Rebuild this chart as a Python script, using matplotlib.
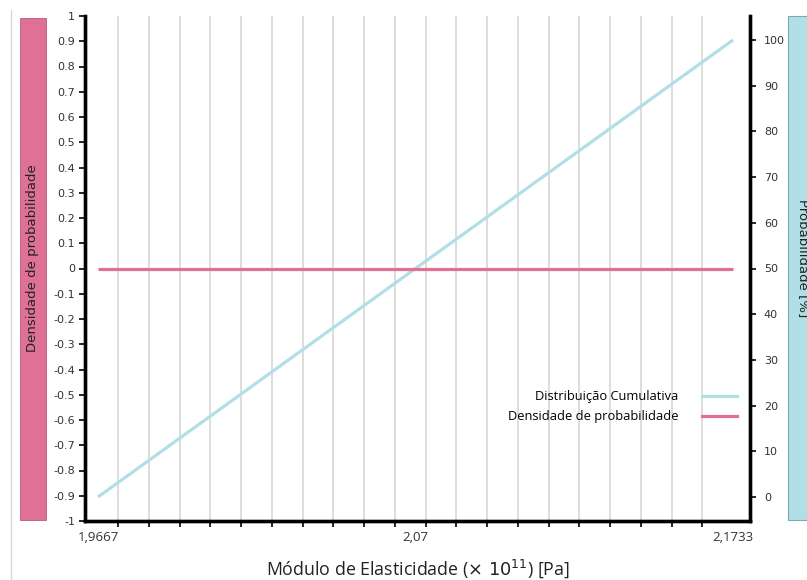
import numpy as np
import matplotlib
matplotlib.use('Agg')
from matplotlib import pyplot as plt
from matplotlib.patches import Rectangle
from matplotlib.lines import Line2D

# modulus of elasticity (x 1e11 Pa)
modulus = [1.9667, 2.07, 2.1733]
cumulative = [0, 50, 100]   # %
density = [0, 0, 0]

tick_labels = ['1,9667', '2,07', '2,1733']

CYAN = '#b0e0e6'
PINK = '#df7096'
TXT = '#333333'

fig = plt.figure(figsize=(8.07, 5.8), dpi=100)
ax = fig.add_axes([85 / 807, 59 / 580, 665 / 807, 505 / 580])
ax2 = ax.twinx()

# left axis: density
yt = np.round(np.arange(-1, 1.01, 0.1), 1)
ax.set_ylim(-1, 1)
ax.set_yticks(yt)
ax.set_yticklabels(['0' if abs(v) < 1e-9 else f'{v:g}' for v in yt])
ax.set_xlim(1.96247, 2.17883)

grid_pos = np.arange(1.9733, 2.1740, 0.01)
ax.set_xticks(grid_pos, minor=True)
ax.set_xticks(modulus, tick_labels)
ax.grid(which='minor', axis='x', color='#d3d3d3', lw=1.1)
ax.grid(which='major', visible=False)
ax.tick_params(axis='x', which='major', length=0, pad=7, labelsize=9.5,
               labelcolor=TXT)
ax.tick_params(axis='x', which='minor', length=4, width=1.2, direction='out')
for lab in ax.get_xticklabels():
    lab.set_fontfamily('Open Sans')
ax.tick_params(axis='y', length=4, width=1.2, labelsize=8, labelcolor=TXT, pad=3)

# right axis: cumulative probability
ax2.set_ylim(-5.25, 105.25)
ax2.set_yticks(np.arange(0, 101, 10))
ax2.tick_params(axis='y', length=4, width=1.2, labelsize=8, labelcolor=TXT, pad=6)

for a in (ax, ax2):
    a.spines['top'].set_visible(False)
    for s in ('left', 'right', 'bottom'):
        a.spines[s].set_linewidth(2.4)
        a.spines[s].set_color('black')

ax2.plot(modulus, cumulative, color=CYAN, lw=2.3, solid_capstyle='butt')
ax2.plot(modulus, density, color=PINK, lw=2.3, solid_capstyle='butt',
         transform=ax.transData)

ax.set_xlabel(r'Módulo de Elasticidade ($\times\ 10^{11}$) [Pa]',
              fontfamily='Open Sans', fontsize=12.8, color='#222222', labelpad=10)

handles = [Line2D([], [], color=CYAN, lw=2.3),
           Line2D([], [], color=PINK, lw=2.3)]
ax2.legend(handles, ['Distribuição Cumulativa', 'Densidade de probabilidade'],
           loc='center right', bbox_to_anchor=(0.980, 0.226), frameon=False,
           markerfirst=False, handlelength=2.7, handletextpad=1.8,
           borderaxespad=0, borderpad=0, labelspacing=0.55,
           prop={'family': 'Open Sans', 'size': 9.3})

# side title boxes
fig.patches.append(Rectangle((20 / 807, 60 / 580), 26 / 807, 502 / 580,
                             transform=fig.transFigure, facecolor=PINK,
                             edgecolor='#b85a7a', lw=0.6))
fig.patches.append(Rectangle((788 / 807, 60 / 580), 30 / 807, 504 / 580,
                             transform=fig.transFigure, facecolor=CYAN,
                             edgecolor='#7ea9b0', lw=0.8))
fig.text(33 / 807, 0.555, 'Densidade de probabilidade', rotation=90,
         ha='center', va='center', fontsize=9.5, color='#222222')
fig.text(803 / 807, 0.555, 'Probabilidade [%]', rotation=270,
         ha='center', va='center', fontsize=9.5, color='#222222')
fig.add_artist(Line2D([11 / 807, 11 / 807], [0, 570 / 580],
                      transform=fig.transFigure, color='#d8d8d8', lw=1))

fig.savefig('out.png', dpi=100)
